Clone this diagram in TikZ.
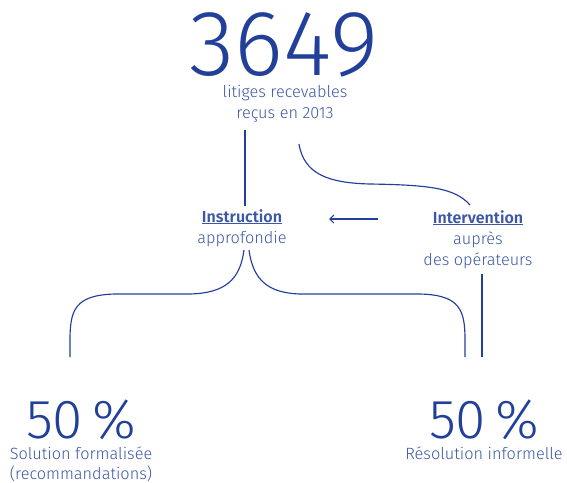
\documentclass[tikz,border=0pt]{standalone}
\usepackage{fontspec}
\setmainfont{Fira Sans Light}[BoldFont=Fira Sans SemiBold]
\usetikzlibrary{arrows.meta}
\definecolor{lineblue}{HTML}{22409A}
\definecolor{txtblue}{HTML}{3B57A6}
\begin{document}
\begin{tikzpicture}[x=1pt,y=-1pt,
  conn/.style={draw=lineblue,line width=1.15pt},
  txt/.style={text=txtblue,font=\fontsize{16.3}{18}\selectfont,inner sep=0pt,anchor=base,text depth=0pt},
  big/.style={text=lineblue,inner sep=0pt,anchor=base,text depth=0pt},
  ul/.style={font=\bfseries\fontsize{16}{18}\selectfont}]
\useasboundingbox (0,0) rectangle (567,482);
% top
\node[big,font=\fontsize{93}{93}\selectfont] (total) at (284,75) {3649};
\node[txt] (lit1) at (285,97) {litiges recevables};
\node[txt] (lit2) at (285,118) {reçus en 2013};
% middle
\node[txt,ul] (instr) at (242,222) {\underline{Instruction}};
\node[txt] (appro) at (242,243) {approfondie};
\node[txt,ul] (interv) at (478,223) {\underline{Intervention}};
\node[txt] (aupres) at (478,244) {auprès};
\node[txt] (desop) at (478,265) {des opérateurs};
% bottom
\node[big,font=\fontsize{55}{55}\selectfont] (pctL) at (81,438) {50\,\%};
\node[txt] (solL1) at (81,459) {Solution formalisée};
\node[txt] (solL2) at (81,479) {(recommandations)};
\node[big,font=\fontsize{55}{55}\selectfont] (pctR) at (484,438) {50\,\%};
\node[txt] (solR) at (484,459) {Résolution informelle};
% coordinates
\coordinate (vtop) at (245,130);
\coordinate (vbot) at (245,206);
\coordinate (stop) at (299,144);
\coordinate (send) at (470,205);
\coordinate (arrS) at (378,219);
\coordinate (arrE) at (329,219);
\coordinate (rtop) at (482,274);
\coordinate (rbot) at (482,357);
\coordinate (btipL) at (244,250);
\coordinate (btipR) at (249,250);
\coordinate (bL) at (70,357);
\coordinate (bR) at (465,357);
% connectors
\draw[conn] (vtop) -- (vbot);
\draw[conn] (stop) .. controls (304,175) and (330,183) .. (370,184)
  .. controls (430,185) and (455,188) .. (send);
\draw[conn,-{Straight Barb[length=4pt,width=8pt]}] (arrS) -- (arrE);
\draw[conn] (rtop) -- (rbot);
\draw[conn] (btipL) .. controls (240,280) and (225,293) .. (190,294)
  -- (115,294) .. controls (75,295) and (70,310) .. (70,340) -- (bL);
\draw[conn] (btipR) .. controls (253,280) and (268,293) .. (300,294)
  -- (420,294) .. controls (460,295) and (465,310) .. (465,340) -- (bR);
\end{tikzpicture}
\end{document}
